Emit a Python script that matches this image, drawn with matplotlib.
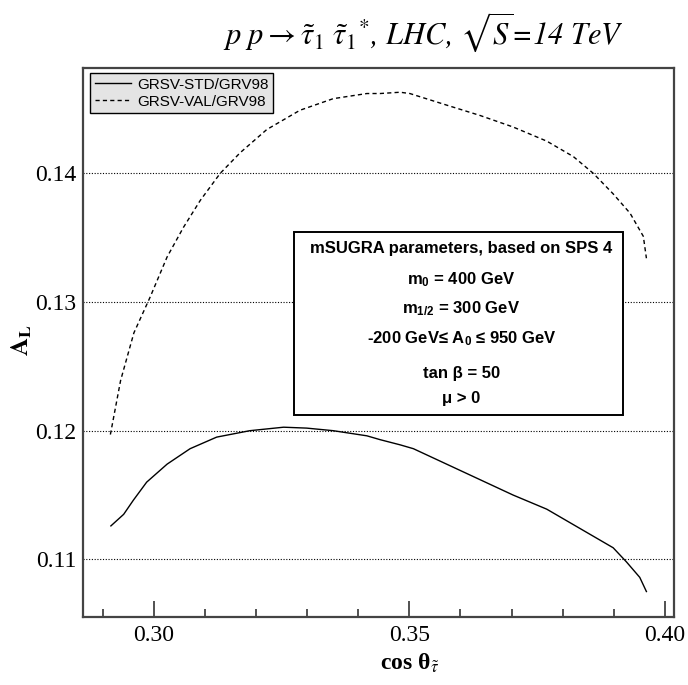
import matplotlib
matplotlib.use("Agg")
import matplotlib.pyplot as plt
from matplotlib.ticker import MultipleLocator, FixedLocator

# ---- data ----
std_x = [0.2916, 0.2941, 0.2960, 0.2986, 0.3026, 0.3071, 0.3123, 0.3188, 0.3254,
         0.3299, 0.3351, 0.3417, 0.3443, 0.3482, 0.3508, 0.3573, 0.3638, 0.3703,
         0.3769, 0.3834, 0.3899, 0.3925, 0.3951, 0.3964]
std_y = [0.1126, 0.1135, 0.1146, 0.1160, 0.1174, 0.1186, 0.1195, 0.1200, 0.12027,
         0.1202, 0.1200, 0.1196, 0.1193, 0.1189, 0.1186, 0.1174, 0.1162, 0.1150,
         0.1139, 0.1124, 0.1109, 0.1098, 0.1086, 0.1075]

val_x = [0.2915, 0.2935, 0.2961, 0.2993, 0.3026, 0.3058, 0.3091, 0.3130, 0.3169,
         0.3221, 0.3286, 0.3351, 0.3417, 0.3443, 0.3482, 0.3501, 0.3573, 0.3638,
         0.3703, 0.3769, 0.3821, 0.3860, 0.3899, 0.3932, 0.3958, 0.3964]
val_y = [0.1197, 0.1239, 0.1276, 0.1304, 0.1335, 0.1358, 0.1379, 0.1400, 0.1416,
         0.1434, 0.1449, 0.1458, 0.1462, 0.1462, 0.1463, 0.1462, 0.1453, 0.1445,
         0.1436, 0.1425, 0.1413, 0.1400, 0.1384, 0.1369, 0.1351, 0.1334]

series_labels = ["GRSV-STD/GRV98", "GRSV-VAL/GRV98"]
x_major = [0.30, 0.35, 0.40]
x_major_labels = ["0.30", "0.35", "0.40"]
y_major = [0.11, 0.12, 0.13, 0.14]
y_major_labels = ["0.11", "0.12", "0.13", "0.14"]

box_lines = [
    "mSUGRA parameters, based on SPS 4",
    r"m$_{0}$ = 400 GeV",
    r"m$_{1/2}$ = 300 GeV",
    r"-200 GeV≤ A$_{0}$ ≤ 950 GeV",
    "tan β = 50",
    "μ > 0",
]

plt.rcParams['mathtext.fontset'] = 'custom'
plt.rcParams['mathtext.rm'] = 'Liberation Sans:bold'
plt.rcParams['mathtext.it'] = 'Liberation Sans:bold'
plt.rcParams['mathtext.bf'] = 'Liberation Sans:bold'

W, H = 688, 685
fig = plt.figure(figsize=(W / 100, H / 100), dpi=100)
L, R, T, B = 83.3, 674, 68.3, 616.5
ax = fig.add_axes([L / W, 1 - B / H, (R - L) / W, (B - T) / H])

ax.plot(std_x, std_y, color='black', lw=1.0, label=series_labels[0])
ax.plot(val_x, val_y, color='black', lw=1.0, dashes=(3, 2.3), label=series_labels[1])

ax.set_xlim(0.2862, 0.4018)
ax.set_ylim(0.10556, 0.14816)

ax.xaxis.set_major_locator(FixedLocator(x_major))
ax.set_xticklabels(x_major_labels)
ax.xaxis.set_minor_locator(MultipleLocator(0.01))
ax.yaxis.set_major_locator(FixedLocator(y_major))
ax.set_yticklabels(y_major_labels)

ax.tick_params(axis='x', which='major', direction='in', length=11.5, width=1.2,
               color='#333333', pad=6, labelsize=17, top=False)
ax.tick_params(axis='x', which='minor', direction='in', length=5.8, width=1.2,
               color='#333333', top=False)
ax.tick_params(axis='y', which='both', length=0, pad=5, labelsize=17)
for lab in ax.get_xticklabels() + ax.get_yticklabels():
    lab.set_family('Liberation Serif')

ax.grid(axis='y', which='major', linestyle=(0, (1, 1.5)), color='black', lw=0.8)
ax.set_axisbelow(True)
for sp in ax.spines.values():
    sp.set_color('#444444')
    sp.set_linewidth(1.6)

leg = ax.legend(loc='upper left', bbox_to_anchor=(90 / W, 1 - 73 / H),
                bbox_transform=fig.transFigure, borderaxespad=0,
                fancybox=False, framealpha=1, facecolor='#e4e4e4',
                edgecolor='black', handlelength=2.4, handletextpad=0.4,
                labelspacing=0.2, borderpad=0.3,
                prop={'family': 'Liberation Sans', 'size': 11})
leg.get_frame().set_linewidth(1.0)

# parameter box
bx0, by0, bx1, by1 = 294.3, 232.5, 622.7, 415
rect = plt.Rectangle((bx0 / W, 1 - by1 / H), (bx1 - bx0) / W, (by1 - by0) / H,
                     transform=fig.transFigure, facecolor='white',
                     edgecolor='black', lw=1.4, zorder=5)
fig.add_artist(rect)
line_y = [248.3, 280, 308.3, 338.3, 373.3, 398.3]
cx = (bx0 + bx1) / 2 + 3
for txt, yy in zip(box_lines, line_y):
    fig.text(cx / W, 1 - yy / H, txt, ha='center', va='center',
             family='Liberation Sans', weight='bold', fontsize=12, zorder=6)

# title
fig.text(423 / W, 1 - 32 / H,
         r"$p\ p \rightarrow \tilde{\tau}_{\mathit{1}}\ \tilde{\tau}_{\mathit{1}}{}^{*}$, LHC, $\sqrt{S}$=14 TeV",
         ha='center', va='center', family='STIXGeneral', style='italic',
         fontsize=22, math_fontfamily='stix')

# axis labels
fig.text(410 / W, 1 - 663 / H, r"cos θ$_{\tilde{\tau}}$", ha='center', va='center',
         family='Liberation Serif', weight='bold', fontsize=17, math_fontfamily='stix')
fig.text(22 / W, 1 - 340 / H, r"$\mathbf{A_{L}}$", ha='center', va='center',
         rotation=90, fontsize=18, math_fontfamily='stix')

fig.savefig('out.png', dpi=100)
